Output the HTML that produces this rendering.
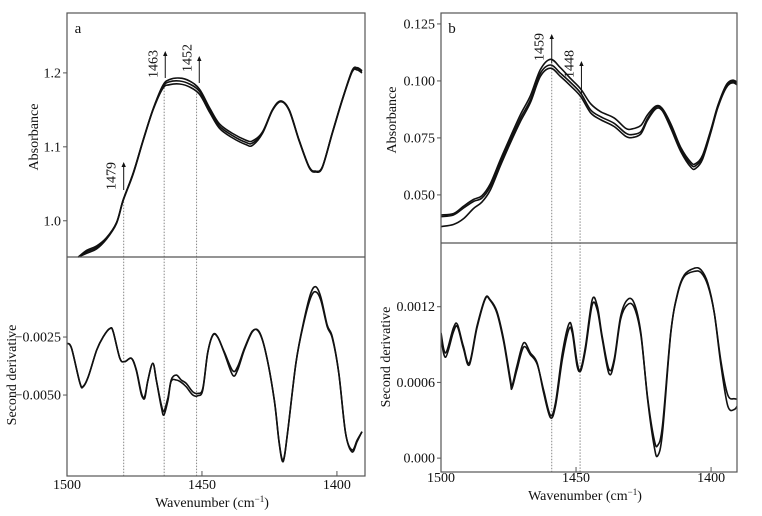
<!DOCTYPE html>
<html><head><meta charset="utf-8"><style>
html,body{margin:0;padding:0;background:#fff;}
svg{display:block;font-family:"Liberation Serif",serif;}
</style></head><body>
<svg id="c" width="762" height="516" viewBox="0 0 762 516"></svg>
<script>
// ---- Panel a data ----
const aAbsWn=[1495.8,1492.7,1489.0,1485.4,1481.7,1479.2,1475.5,1471.8,1468.2,1464.5,1462.0,1458.3,1454.6,1450.9,1447.2,1443.5,1438.6,1433.7,1431.3,1427.6,1423.9,1420.8,1417.7,1414.0,1410.3,1407.9,1405.4,1401.7,1398.0,1394.4,1392.5,1390.7];
const aAbs1=[0.951,0.960,0.966,0.977,0.997,1.028,1.064,1.109,1.150,1.183,1.191,1.193,1.189,1.178,1.153,1.131,1.118,1.109,1.108,1.120,1.150,1.162,1.150,1.109,1.073,1.067,1.073,1.119,1.164,1.202,1.206,1.202];
const aAbs2=[0.951,0.958,0.964,0.976,0.997,1.028,1.064,1.109,1.150,1.181,1.188,1.189,1.185,1.175,1.150,1.128,1.115,1.106,1.105,1.119,1.150,1.162,1.150,1.109,1.073,1.067,1.073,1.119,1.164,1.203,1.207,1.203];
const aAbs3=[0.951,0.956,0.962,0.975,0.996,1.027,1.063,1.108,1.149,1.179,1.184,1.185,1.181,1.171,1.147,1.125,1.112,1.103,1.102,1.118,1.149,1.161,1.149,1.108,1.072,1.066,1.072,1.118,1.163,1.201,1.204,1.200];
const aDerWn=[1500,1498.3,1495.2,1494.0,1492.1,1489.0,1486.6,1484.1,1482.9,1480.4,1478.6,1476.1,1474.3,1472.4,1471.2,1470.0,1468.2,1466.9,1465.1,1464.1,1462.6,1461.4,1459.5,1457.7,1455.8,1453.4,1451.5,1449.7,1447.9,1446.0,1444.2,1441.7,1438.6,1436.8,1434.3,1431.3,1428.8,1426.3,1423.2,1421.4,1419.9,1418.3,1415.2,1412.2,1409.7,1407.9,1406.0,1403.6,1401.7,1399.3,1396.8,1394.4,1392.5,1390.7];
const aDer1=[-0.00277,-0.00299,-0.00450,-0.00464,-0.00421,-0.00306,-0.00249,-0.00213,-0.00227,-0.00342,-0.00356,-0.00342,-0.00392,-0.00493,-0.00514,-0.00435,-0.00363,-0.00435,-0.00550,-0.00586,-0.00522,-0.00435,-0.00414,-0.00435,-0.00450,-0.00486,-0.00493,-0.00471,-0.00320,-0.00241,-0.00249,-0.00320,-0.00414,-0.00392,-0.00306,-0.00227,-0.00227,-0.00320,-0.00522,-0.00708,-0.00787,-0.00665,-0.00363,-0.00177,-0.00062,-0.00033,-0.00076,-0.00198,-0.00249,-0.00406,-0.00665,-0.00737,-0.00694,-0.00658];
const aDer2=[-0.00277,-0.00299,-0.00448,-0.00462,-0.00420,-0.00306,-0.00249,-0.00213,-0.00227,-0.00342,-0.00356,-0.00342,-0.00396,-0.00500,-0.00505,-0.00435,-0.00363,-0.00435,-0.00540,-0.00570,-0.00510,-0.00440,-0.00435,-0.00445,-0.00465,-0.00500,-0.00503,-0.00478,-0.00320,-0.00243,-0.00250,-0.00315,-0.00395,-0.00378,-0.00300,-0.00224,-0.00230,-0.00320,-0.00522,-0.00705,-0.00780,-0.00665,-0.00363,-0.00185,-0.00080,-0.00055,-0.00090,-0.00205,-0.00255,-0.00406,-0.00665,-0.00745,-0.00700,-0.00658];
// ---- Panel b data ----
const bAbsWn=[1500.0,1495.4,1491.7,1488.0,1484.9,1481.8,1478.1,1474.3,1470.6,1466.9,1463.2,1459.4,1455.8,1452.0,1448.3,1444.6,1440.9,1435.9,1431.6,1429.1,1426.0,1423.5,1420.4,1418.0,1414.9,1411.2,1407.4,1405.6,1403.1,1400.0,1397.5,1394.4,1391.9,1389.7];
const bAbs1=[0.0412,0.0418,0.0450,0.0480,0.0496,0.0548,0.0652,0.0755,0.0852,0.0935,0.1050,0.1095,0.1058,0.1010,0.0965,0.0900,0.0865,0.0838,0.0792,0.0790,0.0805,0.0852,0.0890,0.0878,0.0812,0.0708,0.0642,0.0638,0.0675,0.0790,0.0892,0.0982,0.1003,0.0988];
const bAbs2=[0.0405,0.0412,0.0442,0.0471,0.0486,0.0536,0.0639,0.0741,0.0836,0.0917,0.1034,0.1070,0.1034,0.0993,0.0947,0.0873,0.0843,0.0814,0.0771,0.0765,0.0778,0.0836,0.0885,0.0873,0.0800,0.0697,0.0632,0.0629,0.0668,0.0785,0.0887,0.0975,0.0997,0.0982];
const bAbs3=[0.0361,0.0370,0.0395,0.0440,0.0468,0.0520,0.0625,0.0728,0.0822,0.0905,0.1020,0.1056,0.1020,0.0978,0.0932,0.0860,0.0830,0.0800,0.0757,0.0752,0.0768,0.0828,0.0878,0.0868,0.0792,0.0690,0.0620,0.0617,0.0658,0.0778,0.0882,0.0970,0.0992,0.0976];
const bDerWn=[1500.0,1498.3,1495.4,1493.9,1491.7,1489.5,1486.7,1483.6,1481.8,1479.3,1476.8,1474.3,1473.7,1471.9,1469.4,1466.9,1464.4,1462.0,1459.5,1457.6,1455.1,1452.7,1451.4,1449.6,1448.3,1446.5,1444.0,1442.1,1440.3,1437.8,1435.9,1433.5,1431.0,1428.5,1426.0,1423.5,1421.1,1419.8,1418.0,1414.9,1412.4,1409.9,1406.2,1403.7,1401.2,1398.8,1396.3,1393.8,1391.3,1389.7];
const bDer1=[0.000992,0.000834,0.001032,0.001058,0.000886,0.000755,0.001044,0.001268,0.001255,0.001163,0.000939,0.000624,0.000571,0.000729,0.000913,0.000834,0.000755,0.000519,0.000321,0.000413,0.000781,0.001018,0.000992,0.000729,0.000703,0.000886,0.001255,0.001202,0.000965,0.000703,0.000781,0.001123,0.001255,0.001229,0.000992,0.000466,0.000097,0.000018,0.000203,0.000992,0.001308,0.001452,0.001505,0.001492,0.001387,0.001150,0.000729,0.000413,0.000387,0.000440];
const bDer2=[0.000950,0.000800,0.001000,0.001040,0.000870,0.000740,0.001030,0.001262,0.001250,0.001150,0.000920,0.000600,0.000555,0.000700,0.000880,0.000820,0.000745,0.000540,0.000340,0.000440,0.000830,0.001060,0.001020,0.000760,0.000690,0.000860,0.001215,0.001170,0.000945,0.000670,0.000760,0.001100,0.001215,0.001195,0.000975,0.000480,0.000150,0.000100,0.000260,0.001000,0.001300,0.001440,0.001480,0.001470,0.001370,0.001150,0.000760,0.000500,0.000470,0.000470];

const svg=document.getElementById('c');
const NS='http://www.w3.org/2000/svg';
function mk(tag,attrs,parent){const e=document.createElementNS(NS,tag);for(const k in attrs)e.setAttribute(k,attrs[k]);(parent||svg).appendChild(e);return e;}
function scale(d0,d1,r0,r1){return v=>r0+(v-d0)/(d1-d0)*(r1-r0);}
function smoothPath(xs,ys){
  let d='M'+xs[0].toFixed(1)+','+ys[0].toFixed(1);
  for(let i=0;i<xs.length-1;i++){
    const x0=xs[Math.max(0,i-1)],y0=ys[Math.max(0,i-1)],x1=xs[i],y1=ys[i],x2=xs[i+1],y2=ys[i+1],x3=xs[Math.min(xs.length-1,i+2)],y3=ys[Math.min(xs.length-1,i+2)];
    const c1x=x1+(x2-x0)/6,c1y=y1+(y2-y0)/6,c2x=x2-(x3-x1)/6,c2y=y2-(y3-y1)/6;
    d+=' C'+c1x.toFixed(1)+','+c1y.toFixed(1)+' '+c2x.toFixed(1)+','+c2y.toFixed(1)+' '+x2.toFixed(1)+','+y2.toFixed(1);
  }
  return d;
}
function text(str,x,y,opts,name){
  const t=mk('text',Object.assign({x:x,y:y,'font-size':14,fill:'#111','text-anchor':'middle'},opts||{}));
  t.textContent=str;
  
  
  return t;
}
function panel(cfg){
  const g=mk('g',{});
  
  
  const X=scale(1500,cfg.xR,cfg.L,cfg.R);
  const Yt=scale(cfg.t0,cfg.t1,cfg.T,cfg.M);
  const Yb=scale(cfg.b0,cfg.b1,cfg.M,cfg.B);
  const clip=mk('clipPath',{id:'clip'+cfg.id},g);
  mk('rect',{x:cfg.L,y:cfg.T,width:cfg.R-cfg.L,height:cfg.B-cfg.T},clip);
  cfg.guides.forEach(w=>{
    const l=mk('line',{x1:X(w),x2:X(w),y1:Yt(cfg.guideTop(w)),y2:cfg.B,stroke:'#888','stroke-width':1,'stroke-dasharray':'1.5,1.5'},g);
    
    
  });
  const cg=mk('g',{'clip-path':'url(#clip'+cfg.id+')'},g);
  cfg.top.forEach((s,i)=>{
    const p=mk('path',{d:smoothPath(cfg.topWn.map(X),s.map(Yt)),fill:'none',stroke:'#111','stroke-width':1.6},cg);
    
    
  });
  cfg.bot.forEach((s,i)=>{
    const p=mk('path',{d:smoothPath(cfg.botWn.map(X),s.map(Yb)),fill:'none',stroke:'#111','stroke-width':1.6},cg);
    
    
  });
  const fr=mk('rect',{x:cfg.L,y:cfg.T,width:cfg.R-cfg.L,height:cfg.B-cfg.T,fill:'none',stroke:'#555','stroke-width':1.2},g);
  
  
  const dv=mk('line',{x1:cfg.L,x2:cfg.R,y1:cfg.M,y2:cfg.M,stroke:'#555','stroke-width':1.2},g);
  
  
  cfg.xTicks.forEach(v=>{
    mk('line',{x1:X(v),x2:X(v),y1:cfg.B,y2:cfg.B-5,stroke:'#555'},g);
    text(String(v),X(v),cfg.xLabY,{},'x-tick-label');
  });
  cfg.tTicks.forEach((v,i)=>{
    mk('line',{x1:cfg.L-4,x2:cfg.L,y1:Yt(v),y2:Yt(v),stroke:'#555'},g);
    text(cfg.tLabels[i],cfg.L-6,Yt(v)+4.5,{'text-anchor':'end'},'y-tick-label');
  });
  cfg.bTicks.forEach((v,i)=>{
    mk('line',{x1:cfg.L-4,x2:cfg.L,y1:Yb(v),y2:Yb(v),stroke:'#555'},g);
    text(cfg.bLabels[i],cfg.L-6,Yb(v)+4.5,{'text-anchor':'end'},'y-tick-label');
  });
  cfg.arrows.forEach(a=>{
    const x=X(a.w);
    const l=mk('line',{x1:x,x2:x,y1:a.y1,y2:a.y2+4,stroke:'#111','stroke-width':1},g);
    
    
    mk('polygon',{points:(x-2.2)+','+(a.y2+5)+' '+(x+2.2)+','+(a.y2+5)+' '+x+','+a.y2,fill:'#111'},g);
    text(a.label,0,0,{transform:'translate('+(x-8)+','+a.ly+') rotate(-90)'},'peak-label-'+a.label);
  });
  text(cfg.id,cfg.L+11,cfg.T+20,{'font-size':15},'panel-label-'+cfg.id);
  text('Absorbance',0,0,{transform:'translate('+cfg.absX+','+cfg.absY+') rotate(-90)'},'y-axis-title-absorbance');
  text('Second derivative',0,0,{transform:'translate('+cfg.derX+','+cfg.derY+') rotate(-90)'},'y-axis-title-second-derivative');
  const xt=text('Wavenumber (cm',(cfg.L+cfg.R)/2-4,cfg.titleY,{},'x-axis-title');
  const sp=mk('tspan',{'font-size':9,dy:-5},xt);sp.textContent='\u22121';
  const sp2=mk('tspan',{dy:5},xt);sp2.textContent=')';
}
panel({id:'a',name:'panel-a',L:67,R:365,T:13,M:257,B:476,xR:1389.6,
  t0:1.281,t1:0.951,b0:0.00095,b1:-0.00849,
  topWn:aAbsWn,top:[aAbs1,aAbs2,aAbs3],botWn:aDerWn,bot:[aDer1,aDer2],
  xTicks:[1500,1450,1400],tTicks:[1.2,1.1,1.0],tLabels:['1.2','1.1','1.0'],
  bTicks:[-0.0025,-0.005],bLabels:['\u22120.0025','\u22120.0050'],
  guides:[1479,1464,1452],guideTop:w=>w===1479?1.03:1.18,
  arrows:[{w:1479,label:'1479',y1:190,y2:162,ly:176},{w:1463.6,label:'1463',y1:78,y2:51,ly:64},{w:1451,label:'1452',y1:83,y2:56,ly:58}],
  xLabY:489,titleY:507,absX:38,absY:137,derX:16,derY:375});
panel({id:'b',name:'panel-b',L:441,R:737,T:13,M:243,B:472,xR:1390.4,
  t0:0.1298,t1:0.0289,b0:0.001705,b1:-0.00011,
  topWn:bAbsWn,top:[bAbs1,bAbs2,bAbs3],botWn:bDerWn,bot:[bDer1,bDer2],
  xTicks:[1500,1450,1400],tTicks:[0.125,0.1,0.075,0.05],tLabels:['0.125','0.100','0.075','0.050'],
  bTicks:[0.0012,0.0006,0],bLabels:['0.0012','0.0006','0.000'],
  guides:[1459,1448.5],guideTop:w=>w===1459?0.108:0.095,
  arrows:[{w:1459,label:'1459',y1:63,y2:34,ly:47},{w:1448,label:'1448',y1:95,y2:61,ly:64}],
  xLabY:482,titleY:500,absX:396,absY:120,derX:390,derY:357});
</script>
</body></html>
